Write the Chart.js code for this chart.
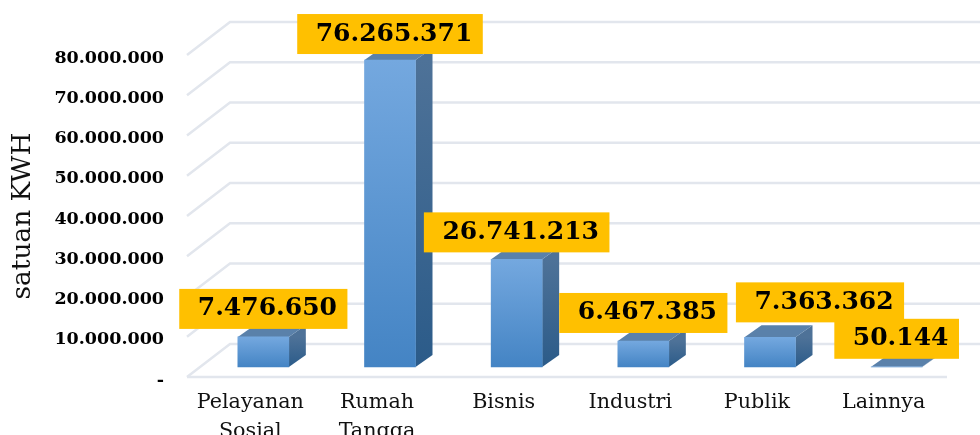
<!DOCTYPE html>
<html>
<head>
<meta charset="utf-8">
<title>Konsumsi listrik per kelompok</title>
<script src="https://cdn.jsdelivr.net/npm/chart.js@4/dist/chart.umd.min.js"></script>
<style>
  body { margin: 0; background: #fff; }
  canvas { display: block; }
</style>
</head>
<body>
<canvas id="kwhChart" width="980" height="435"></canvas>
<script>
/* ------------------------------------------------------------
   Data
   ------------------------------------------------------------ */
const categories = [['Pelayanan', 'Sosial'], ['Rumah', 'Tangga'], 'Bisnis', 'Industri', 'Publik', 'Lainnya'];
const kwhValues  = [7476650, 76265371, 26741213, 6467385, 7363362, 50144];
const kwhLabels  = ['7.476.650', '76.265.371', '26.741.213', '6.467.385', '7.363.362', '50.144'];
const yTicks     = ['-', '10.000.000', '20.000.000', '30.000.000', '40.000.000', '50.000.000', '60.000.000', '70.000.000', '80.000.000'];

/* ------------------------------------------------------------
   Fake 3D look of the old spreadsheet chart
   ------------------------------------------------------------ */
const WALL_DX = 43, WALL_DY = -33;   // floor depth, front edge to back wall
const BAR_DX = 13, BAR_DY = -10;     // bars stand in the middle of the floor
const SIDE_DX = 17, SIDE_DY = -12;   // depth of one bar
const labelLift = [8, 6, 7, 8, 15, 8];  // gap between bar top and its orange box
const labelShift = [0, 0, 0, 0, 50, 0]; // the Publik box was dragged to the right
const GRID = '#e2e6ed';

const threeD = {
  id: 'threeD',
  beforeDatasetsDraw(chart) {
    const { ctx, chartArea, scales } = chart;

    // walls and floor
    ctx.save();
    ctx.strokeStyle = GRID;
    ctx.lineWidth = 2.5;
    scales.y.ticks.forEach(t => {
      const y = scales.y.getPixelForValue(t.value);
      ctx.beginPath();
      ctx.moveTo(chartArea.left, y);
      ctx.lineTo(chartArea.left + WALL_DX, y + WALL_DY);
      ctx.lineTo(chart.width, y + WALL_DY);
      ctx.stroke();
    });
    ctx.beginPath();
    ctx.moveTo(chartArea.left, chartArea.bottom);
    ctx.lineTo(chartArea.right, chartArea.bottom);
    ctx.stroke();
    ctx.restore();

    // side and top of every bar; restored in afterDatasetsDraw
    ctx.save();
    ctx.translate(BAR_DX, BAR_DY);
    chart.getDatasetMeta(0).data.forEach(bar => {
      const right = bar.x + bar.width / 2;
      const left = bar.x - bar.width / 2;

      const side = ctx.createLinearGradient(0, bar.y, 0, bar.base);
      side.addColorStop(0, '#4e7298');
      side.addColorStop(1, '#2b5b89');
      ctx.fillStyle = side;
      ctx.beginPath();
      ctx.moveTo(right, bar.y);
      ctx.lineTo(right + SIDE_DX, bar.y + SIDE_DY);
      ctx.lineTo(right + SIDE_DX, bar.base + SIDE_DY);
      ctx.lineTo(right, bar.base);
      ctx.closePath();
      ctx.fill();

      ctx.fillStyle = '#5a81aa';
      ctx.beginPath();
      ctx.moveTo(left, bar.y);
      ctx.lineTo(left + SIDE_DX, bar.y + SIDE_DY);
      ctx.lineTo(right + SIDE_DX, bar.y + SIDE_DY);
      ctx.lineTo(right, bar.y);
      ctx.closePath();
      ctx.fill();
    });
  },
  afterDatasetsDraw(chart) {
    chart.ctx.restore();
  },
  afterDraw(chart) {
    // orange value boxes, on top of everything
    const { ctx } = chart;
    ctx.save();
    ctx.font = 'bold 25px "DejaVu Serif"';
    ctx.textAlign = 'center';
    ctx.textBaseline = 'middle';
    chart.getDatasetMeta(0).data.forEach((bar, i) => {
      const w = ctx.measureText(kwhLabels[i]).width + 29;
      const cx = bar.x + BAR_DX + labelShift[i];
      const bottom = bar.y + BAR_DY - labelLift[i];
      ctx.fillStyle = '#ffc000';
      ctx.fillRect(cx - w / 2, bottom - 40, w, 40);
      ctx.fillStyle = '#000';
      ctx.fillText(kwhLabels[i], cx + 4, bottom - 20);
    });
    ctx.restore();
  }
};

/* ------------------------------------------------------------
   Chart
   ------------------------------------------------------------ */
new Chart(document.getElementById('kwhChart'), {
  type: 'bar',
  data: {
    labels: categories,
    datasets: [{
      data: kwhValues,
      barThickness: 51,
      clip: false,
      backgroundColor: c => {                 // each bar fades top to bottom
        const yScale = c.chart.scales.y;
        if (!yScale || c.raw === undefined) return '#5a96d6';
        const top = yScale.getPixelForValue(c.raw);
        const base = yScale.getPixelForValue(0);
        if (!isFinite(top) || !isFinite(base)) return '#5a96d6';  // scale not laid out yet
        const g = c.chart.ctx.createLinearGradient(0, top, 0, base);
        g.addColorStop(0, '#74a8df');
        g.addColorStop(1, '#4484c4');
        return g;
      }
    }]
  },
  options: {
    responsive: false,
    animation: false,
    layout: { padding: { top: 55, right: 33 } },
    plugins: {
      legend: { display: false },
      tooltip: { enabled: false }
    },
    scales: {
      x: {
        grid: { display: false },
        border: { display: false },
        afterFit: s => { s.height = 58; },
        ticks: {
          color: '#111',
          padding: 3,
          maxRotation: 0,
          autoSkip: false,
          font: { family: '"DejaVu Serif"', size: 20.7, lineHeight: 1.42 }
        }
      },
      y: {
        min: 0,
        max: 80000000,
        afterFit: s => { s.width = 187; },
        grid: { display: false },
        border: { display: false },
        title: {
          display: true,
          text: 'satuan KWH',
          color: '#111',
          padding: { top: 7, bottom: 0 },
          font: { family: '"DejaVu Serif"', size: 26.4, weight: 'normal' }
        },
        ticks: {
          stepSize: 10000000,
          padding: 15,
          labelOffset: 3,
          color: '#000',
          callback: (v, i) => yTicks[i],
          font: { family: '"DejaVu Serif"', size: 17.5, weight: 'bold' }
        }
      }
    }
  },
  plugins: [threeD]
});
</script>
</body>
</html>
